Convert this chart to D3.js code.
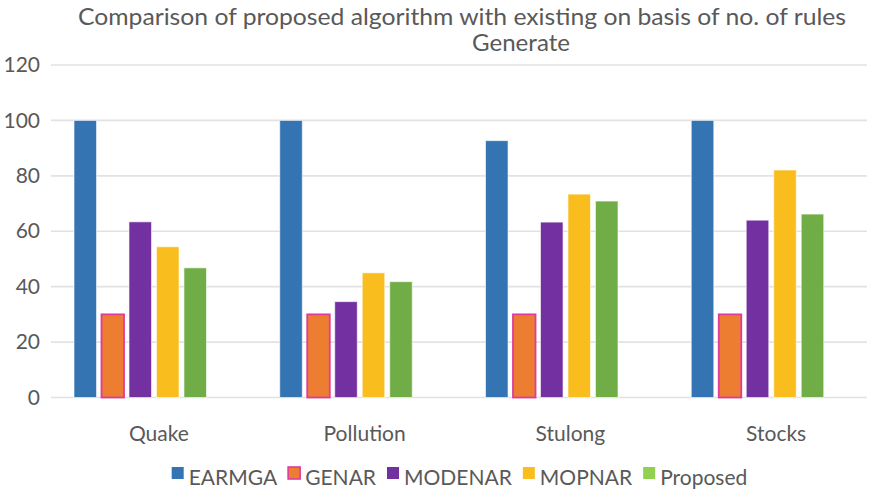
<!DOCTYPE html>
<html>
<head>
<meta charset="utf-8">
<script src="https://cdn.jsdelivr.net/npm/d3@7"></script>
<style>
  html, body { margin: 0; padding: 0; background: #fff; }
  svg { display: block; }
  text { font-family: Lato, "Open Sans", sans-serif; fill: #595959; }
</style>
</head>
<body>
<svg id="chart" width="871" height="491"></svg>
<script>
// Number of rules generated per dataset
const categories = ["Quake", "Pollution", "Stulong", "Stocks"];
const seriesNames = ["EARMGA", "GENAR", "MODENAR", "MOPNAR", "Proposed"];
const earmga   = [100, 100, 92.7, 100];
const genar    = [30, 30, 30, 30];
const modenar  = [63.4, 34.6, 63.3, 64.0];
const mopnar   = [54.4, 45.0, 73.4, 82.1];
const proposed = [46.8, 41.8, 70.9, 66.2];
const yTicks = [0, 20, 40, 60, 80, 100, 120];
const titleLines = ["Comparison of proposed algorithm with existing on basis of no. of rules", "Generate"];

const seriesValues = [earmga, genar, modenar, mopnar, proposed];
const fills   = ["#3474B3", "#ED7D31", "#7330A0", "#F9BD1E", "#71AD47"];
const strokes = [null, "#DD3C9C", null, null, null];
const legendFills = ["#3474B3", "#ED7D31", "#7330A0", "#F9BD1E", "#92D050"];

const svg = d3.select("#chart");

const y = d3.scaleLinear().domain([0, 120]).range([397.5, 65]);
const x = d3.scaleBand().domain(categories).range([56, 879]).padding(0);
const xInner = d3.scaleBand().domain(seriesNames).range([18, 150.5]).paddingInner(0.18).paddingOuter(0);

// Title (two lines)
svg.append("text").attr("x", 462).attr("y", 25).attr("text-anchor", "middle")
  .attr("textLength", 768).attr("lengthAdjust", "spacingAndGlyphs")
  .style("font-size", "23px").text(titleLines[0]);
svg.append("text").attr("x", 521).attr("y", 51).attr("text-anchor", "middle")
  .attr("textLength", 98).attr("lengthAdjust", "spacingAndGlyphs")
  .style("font-size", "23px").text(titleLines[1]);

// Gridlines
svg.append("g").selectAll("line").data(yTicks).join("line")
  .attr("x1", 51).attr("x2", 867)
  .attr("y1", d => y(d)).attr("y2", d => y(d))
  .attr("stroke", "#E2E2E2").attr("stroke-width", 1.6);

// Y axis labels
const yAxis = d3.axisLeft(y).tickValues(yTicks).tickSize(0).tickPadding(0);
const gy = svg.append("g").attr("transform", "translate(40,0)").call(yAxis);
gy.select(".domain").remove();
gy.selectAll("text").style("font-size", "21px").attr("fill", "#595959")
  .style("font-family", "Lato, 'Open Sans', sans-serif");

// Bars
const groups = svg.append("g").selectAll("g").data(categories).join("g")
  .attr("transform", d => `translate(${x(d)},0)`);
groups.selectAll("rect")
  .data((c, ci) => seriesNames.map((s, si) => ({ s, si, v: seriesValues[si][ci] })))
  .join("rect")
  .attr("x", d => xInner(d.s))
  .attr("width", xInner.bandwidth())
  .attr("y", d => y(d.v))
  .attr("height", d => y(0) - y(d.v))
  .attr("fill", d => fills[d.si])
  .attr("stroke", d => strokes[d.si] || "rgba(255,255,255,0.6)")
  .attr("stroke-width", d => strokes[d.si] ? 1.8 : 1);

// X axis labels
const xAxis = d3.axisBottom(x).tickSize(0).tickPadding(0);
const gx = svg.append("g").attr("transform", "translate(0,426)").call(xAxis);
gx.select(".domain").remove();
gx.selectAll("text").style("font-size", "21px").attr("fill", "#595959")
  .style("font-family", "Lato, 'Open Sans', sans-serif");

// Legend
const legend = svg.append("g");
const items = legend.selectAll("g").data(seriesNames).join("g");
items.append("rect").attr("width", 12).attr("height", 12).attr("y", 467)
  .attr("fill", (d, i) => legendFills[i])
  .attr("stroke", (d, i) => strokes[i] || "none").attr("stroke-width", 1.6);
items.append("text").attr("x", 17).attr("y", 485).style("font-size", "21px").text(d => d);
const widths = [];
items.each(function () { widths.push(this.querySelector("text").getComputedTextLength() + 17); });
const gap = 11;
const total = d3.sum(widths) + gap * (widths.length - 1);
let start = 459.5 - total / 2;
items.attr("transform", (d, i) => {
  const t = `translate(${start},0)`;
  start += widths[i] + gap;
  return t;
});
</script>
</body>
</html>
